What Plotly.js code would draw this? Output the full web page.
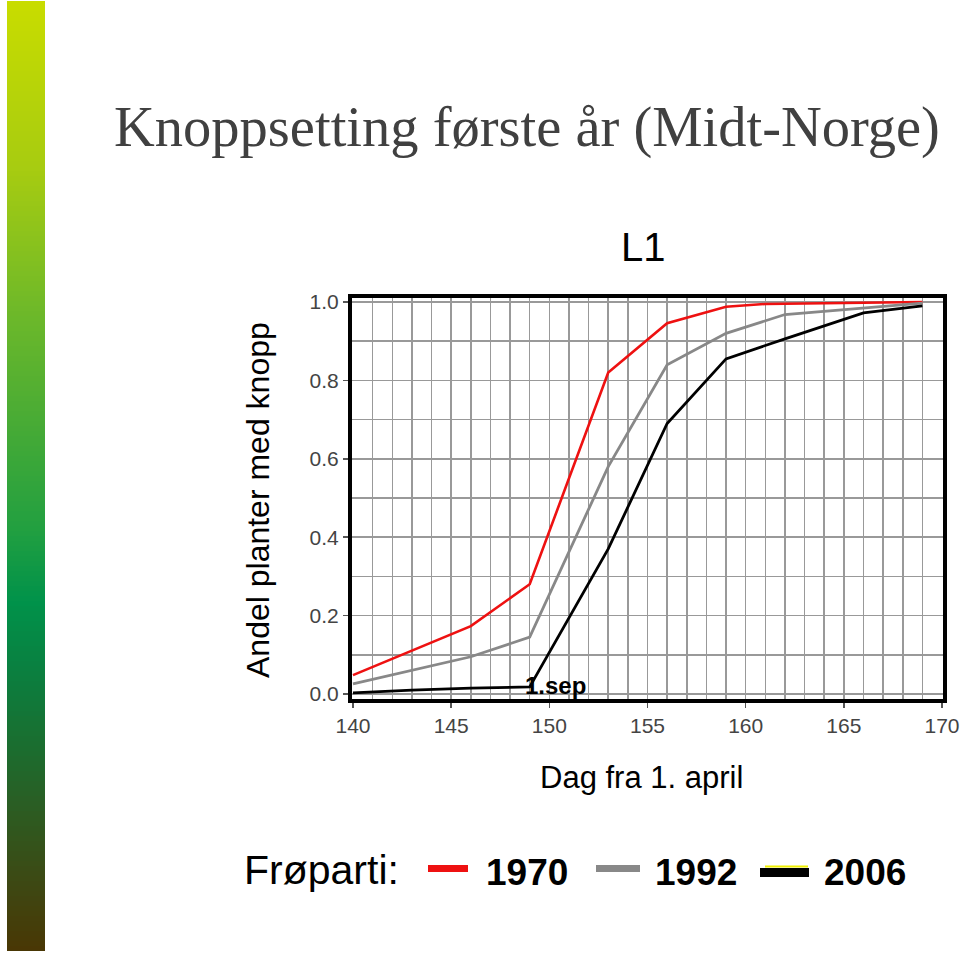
<!DOCTYPE html>
<html>
<head>
<meta charset="utf-8">
<script src="https://cdn.plot.ly/plotly-3.0.1.min.js"></script>
<style>html,body{margin:0;padding:0;background:#fff;}#chart{width:960px;height:954px;}</style>
</head>
<body>
<div id="chart"></div>
<script>
// ---- data ----
const seriesNames = ['1970', '1992', '2006'];
const days1970 = [140, 146, 149, 153, 156, 159, 161, 166, 169];
const vals1970 = [0.048, 0.173, 0.28, 0.82, 0.946, 0.988, 0.995, 0.998, 1.0];
const days1992 = [140, 146, 149, 153, 156, 159, 162, 163, 166, 169];
const vals1992 = [0.026, 0.095, 0.145, 0.58, 0.84, 0.92, 0.968, 0.972, 0.985, 0.997];
const days2006 = [140, 143, 146, 149, 153, 156, 159, 162, 166, 169];
const vals2006 = [0.003, 0.01, 0.015, 0.018, 0.37, 0.69, 0.855, 0.906, 0.972, 0.99];
const xTickVals = [140, 145, 150, 155, 160, 165, 170];
const yTickVals = [0.0, 0.2, 0.4, 0.6, 0.8, 1.0];
const sepDay = 150.3;
const sepLabel = '1.sep';

// ---- geometry helpers (pixel -> paper) ----
const W = 960, H = 954;
const M = {l: 352, r: 17, t: 298, b: 255};
const PW = W - M.l - M.r, PH = H - M.t - M.b;
const px = x => (x - M.l) / PW;
const py = y => (H - M.b - y) / PH;

const colors = ['#ee1111', '#888888', '#000000'];
const sans = 'Liberation Sans, Arial, sans-serif';

const traces = [
  {x: days1970, y: vals1970, name: seriesNames[0], mode: 'lines', line: {color: colors[0], width: 2.6}},
  {x: days1992, y: vals1992, name: seriesNames[1], mode: 'lines', line: {color: colors[1], width: 2.8}},
  {x: days2006, y: vals2006, name: seriesNames[2], mode: 'lines', line: {color: colors[2], width: 2.8}}
];

// gradient bar on the left (decoration)
const stops = [
  [0, [200, 220, 0]], [0.17, [168, 204, 16]], [0.33, [108, 184, 42]], [0.45, [69, 170, 54]],
  [0.55, [35, 160, 64]], [0.63, [0, 146, 74]], [0.70, [10, 128, 64]], [0.78, [26, 110, 48]],
  [0.85, [44, 92, 34]], [0.92, [60, 74, 20]], [1.0, [74, 54, 4]]
];
function colAt(t) {
  for (let i = 1; i < stops.length; i++) {
    if (t <= stops[i][0]) {
      const a = stops[i - 1], b = stops[i];
      const f = (t - a[0]) / (b[0] - a[0]);
      const c = a[1].map((v, k) => Math.round(v + (b[1][k] - v) * f));
      return 'rgb(' + c.join(',') + ')';
    }
  }
  return 'rgb(74,54,4)';
}
const shapes = [];
const barTop = 1, barBot = 951, step = 5;
for (let y = barTop; y < barBot; y += step) {
  const c = colAt((y - barTop) / (barBot - barTop));
  shapes.push({type: 'rect', xref: 'paper', yref: 'paper', layer: 'below',
    x0: px(7), x1: px(45), y0: py(y), y1: py(Math.min(y + step + 0.6, barBot)),
    fillcolor: c, line: {width: 0}});
}
// legend samples
shapes.push({type: 'line', xref: 'paper', yref: 'paper', x0: px(428), x1: px(468), y0: py(868.5), y1: py(868.5), line: {color: colors[0], width: 7}});
shapes.push({type: 'line', xref: 'paper', yref: 'paper', x0: px(596), x1: px(640), y0: py(868.5), y1: py(868.5), line: {color: colors[1], width: 7}});
shapes.push({type: 'line', xref: 'paper', yref: 'paper', x0: px(760), x1: px(809), y0: py(872.5), y1: py(872.5), line: {color: colors[2], width: 9}});
shapes.push({type: 'line', xref: 'paper', yref: 'paper', x0: px(765), x1: px(808), y0: py(866.5), y1: py(866.5), line: {color: '#f0f000', width: 2}});

const ann = (text, x, y, size, opts) => Object.assign({
  text: text, xref: 'paper', yref: 'paper', x: px(x), y: py(y), showarrow: false,
  xanchor: 'center', yanchor: 'middle', font: {family: sans, size: size, color: '#000'}
}, opts || {});

const annotations = [
  ann('L1', 643, 247, 40),
  ann('Andel planter med knopp', 258, 500, 32, {textangle: -90}),
  ann('Dag fra 1. april', 641, 777, 31),
  ann('Frøparti:', 242, 870, 41, {xanchor: 'left'}),
  ann('<b>' + seriesNames[0] + '</b>', 527, 872, 37),
  ann('<b>' + seriesNames[1] + '</b>', 696, 872, 37),
  ann('<b>' + seriesNames[2] + '</b>', 865, 872, 37),
  {text: '<b>' + sepLabel + '</b>', xref: 'x', yref: 'y', x: sepDay, y: 0.022, showarrow: false,
   xanchor: 'center', yanchor: 'middle', font: {family: sans, size: 24, color: '#000'}}
];

const gridCol = '#999999';
const tickFont = {family: sans, size: 21, color: '#444'};
const layout = {
  width: W, height: H,
  margin: M,
  paper_bgcolor: '#fff', plot_bgcolor: '#fff',
  showlegend: false,
  title: {text: 'Knoppsetting første år (Midt-Norge)', x: 527 / W, xanchor: 'center',
    y: 1 - 126 / H, yanchor: 'middle', yref: 'container',
    font: {family: 'Liberation Serif, Times New Roman, serif', size: 56.5, color: '#404040'}},
  xaxis: {range: [139.95, 170.05], tickmode: 'array', tickvals: xTickVals, ticktext: xTickVals.map(String),
    showgrid: true, gridcolor: gridCol, gridwidth: 1.5,
    minor: {tickmode: 'linear', tick0: 140, dtick: 1, showgrid: true, gridcolor: gridCol, gridwidth: 1.5},
    showline: true, linecolor: '#000', linewidth: 4, mirror: true,
    ticks: 'outside', ticklen: 5, tickwidth: 1.5, tickcolor: '#555',
    zeroline: false, tickfont: tickFont},
  yaxis: {range: [-0.0128, 1.0102], tickmode: 'array', tickvals: yTickVals, ticktext: yTickVals.map(v => v.toFixed(1)),
    showgrid: true, gridcolor: gridCol, gridwidth: 1.5,
    minor: {tickmode: 'linear', tick0: 0, dtick: 0.1, showgrid: true, gridcolor: gridCol, gridwidth: 1.5},
    showline: true, linecolor: '#000', linewidth: 4, mirror: true,
    ticks: 'outside', ticklen: 5, tickwidth: 1.5, tickcolor: '#555',
    zeroline: false, tickfont: tickFont},
  shapes: shapes,
  annotations: annotations
};

Plotly.newPlot('chart', traces, layout, {displayModeBar: false, staticPlot: true});
</script>
</body>
</html>
